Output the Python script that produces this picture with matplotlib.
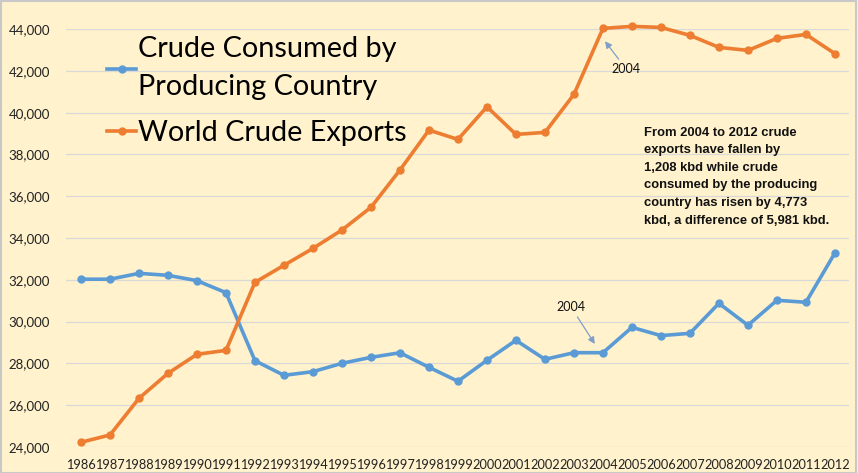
import matplotlib.pyplot as plt
from matplotlib.patches import Rectangle
from matplotlib.ticker import FuncFormatter

# years on the x axis
years = list(range(1986, 2013))

# crude consumed by producing country (kbd)
consumed = [32030, 32030, 32310, 32215, 31960, 31385, 28130, 27430, 27605, 28005,
            28290, 28510, 27815, 27145, 28150, 29105, 28195, 28512, 28512, 29725,
            29330, 29440, 30875, 29825, 31020, 30925, 33285]

# world crude exports (kbd)
exports = [24225, 24575, 26330, 27525, 28435, 28625, 31880, 32695, 33505, 34385,
           35470, 37255, 39165, 38720, 40280, 38960, 39055, 40875, 44033, 44130,
           44080, 43700, 43125, 42980, 43555, 43745, 42825]

note = ("From 2004 to 2012 crude\n"
        "exports have fallen by\n"
        "1,208 kbd while crude\n"
        "consumed by the producing\n"
        "country has risen by 4,773\n"
        "kbd, a difference of 5,981 kbd.")

bg = "#FFF2CC"
blue = "#5B9BD5"
orange = "#ED7D31"

plt.rcParams['font.family'] = ['Lato', 'DejaVu Sans']

fig = plt.figure(figsize=(8.58, 4.73), dpi=100, facecolor=bg)
ax = fig.add_axes([0.0775, 0.055, 0.9125, 0.8835], facecolor=bg)

ax.plot(years, consumed, color=blue, lw=2.6, marker='o', ms=5,
        label="Crude Consumed by\nProducing Country", clip_on=False)
ax.plot(years, exports, color=orange, lw=2.6, marker='o', ms=5,
        label="World Crude Exports", clip_on=False)

ax.set_xlim(years[0] - 0.5, years[-1] + 0.5)
ax.set_ylim(24000, 44000)
ax.set_yticks(range(24000, 44001, 2000))
ax.yaxis.set_major_formatter(FuncFormatter(lambda v, p: f"{int(v):,}"))
ax.set_xticks(years)
ax.tick_params(axis='y', length=0, labelsize=9.5, colors='#222222', pad=12)
ax.tick_params(axis='x', length=0, labelsize=9.2, colors='#222222', pad=9)
ax.grid(axis='y', color='#D9D9D9', lw=0.9)
ax.set_axisbelow(True)
for s in ax.spines.values():
    s.set_visible(False)

# legend, upper left
leg = ax.legend(loc='upper left', bbox_to_anchor=(0.052, 0.983), frameon=False,
                fontsize=20.8, handlelength=1.0, handletextpad=0.06,
                labelspacing=0.68, borderaxespad=0, borderpad=0)
for t in leg.get_texts():
    t.set_linespacing(1.57)

# 2004 arrows
ax.annotate("2004", xy=(2004.07, 43420), xytext=(2004.8, 42090),
            fontsize=9, ha='center', va='center', color='#111111',
            annotation_clip=False,
            arrowprops=dict(arrowstyle='-|>', color='#7F9FC8', lw=0.9,
                            shrinkA=1, shrinkB=0, mutation_scale=10))
ax.annotate("2004", xy=(2003.72, 28930), xytext=(2002.9, 30700),
            fontsize=9, ha='center', va='center', color='#111111',
            annotation_clip=False,
            arrowprops=dict(arrowstyle='-|>', color='#7F9FC8', lw=0.9,
                            shrinkA=1, shrinkB=0, mutation_scale=10))

# note text
ax.text(2005.4, 39330, note, fontsize=9.4, fontweight='bold',
        family='Liberation Sans', va='top', ha='left', linespacing=1.62,
        color='#111111')

# grey frame round the picture
fig.patches.append(Rectangle((0.001, 0.001), 0.997, 0.997, transform=fig.transFigure,
                             fill=False, edgecolor='#C8C8C8', lw=1.5))

fig.savefig("out.png", dpi=100, facecolor=bg)
